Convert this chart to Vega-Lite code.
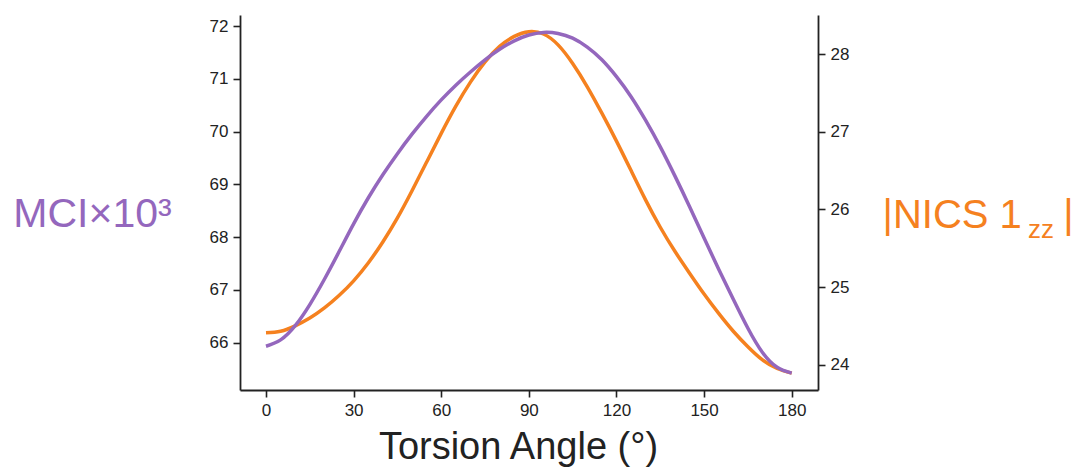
{
"$schema": "https://vega.github.io/schema/vega-lite/v6.json",
"width": 578,
"height": 375,
"autosize": "none",
"padding": {"left": 240, "top": 15, "right": 255, "bottom": 80},
"background": "white",
"config": {
  "view": {"stroke": null},
  "font": "Liberation Sans",
  "axis": {"grid": false, "domainColor": "#222222", "domainWidth": 1.8, "tickColor": "#222222", "tickWidth": 1.6, "tickSize": 7, "labelFont": "Liberation Sans", "labelFontSize": 17, "labelColor": "#222222", "labelPadding": 5, "titleFont": "Liberation Sans", "titleFontWeight": "normal", "titleFontSize": 38}
},
"title": {"text": "zz", "orient": "top", "anchor": "start", "frame": "group", "offset": 0, "baseline": "alphabetic", "fontSize": 26, "fontWeight": "normal", "font": "Liberation Sans", "color": "#f5811f", "dx": 788, "dy": 249},
"data": {"values": [
{"angle": 0, "mci": 65.93, "nics": 24.41},
{"angle": 5, "mci": 66.05, "nics": 24.43},
{"angle": 10, "mci": 66.32, "nics": 24.5},
{"angle": 15, "mci": 66.72, "nics": 24.6},
{"angle": 20, "mci": 67.2, "nics": 24.73},
{"angle": 25, "mci": 67.72, "nics": 24.89},
{"angle": 30, "mci": 68.25, "nics": 25.08},
{"angle": 35, "mci": 68.74, "nics": 25.31},
{"angle": 40, "mci": 69.18, "nics": 25.58},
{"angle": 45, "mci": 69.58, "nics": 25.89},
{"angle": 50, "mci": 69.95, "nics": 26.24},
{"angle": 55, "mci": 70.29, "nics": 26.61},
{"angle": 60, "mci": 70.6, "nics": 26.98},
{"angle": 65, "mci": 70.88, "nics": 27.33},
{"angle": 70, "mci": 71.13, "nics": 27.64},
{"angle": 75, "mci": 71.36, "nics": 27.9},
{"angle": 80, "mci": 71.56, "nics": 28.1},
{"angle": 85, "mci": 71.72, "nics": 28.23},
{"angle": 90, "mci": 71.83, "nics": 28.29},
{"angle": 95, "mci": 71.88, "nics": 28.26},
{"angle": 100, "mci": 71.86, "nics": 28.12},
{"angle": 105, "mci": 71.77, "nics": 27.88},
{"angle": 110, "mci": 71.6, "nics": 27.58},
{"angle": 115, "mci": 71.36, "nics": 27.24},
{"angle": 120, "mci": 71.04, "nics": 26.88},
{"angle": 125, "mci": 70.66, "nics": 26.5},
{"angle": 130, "mci": 70.21, "nics": 26.12},
{"angle": 135, "mci": 69.71, "nics": 25.77},
{"angle": 140, "mci": 69.16, "nics": 25.46},
{"angle": 145, "mci": 68.58, "nics": 25.18},
{"angle": 150, "mci": 67.98, "nics": 24.91},
{"angle": 155, "mci": 67.39, "nics": 24.66},
{"angle": 160, "mci": 66.82, "nics": 24.43},
{"angle": 165, "mci": 66.27, "nics": 24.23},
{"angle": 170, "mci": 65.81, "nics": 24.06},
{"angle": 175, "mci": 65.53, "nics": 23.95},
{"angle": 180, "mci": 65.42, "nics": 23.89}
]},
"encoding": {
  "x": {"field": "angle", "type": "quantitative",
    "scale": {"domain": [-8.9, 189], "nice": false, "zero": false},
    "axis": {"values": [0, 30, 60, 90, 120, 150, 180], "title": "Torsion Angle (°)", "titleColor": "#222222", "titleX": 278, "titleY": 68, "titleAlign": "center", "titleBaseline": "alphabetic"}}
},
"layer": [
  {
    "mark": {"type": "line", "color": "#f5811f", "strokeWidth": 3.5, "interpolate": "natural"},
    "encoding": {
      "y": {"field": "nics", "type": "quantitative",
        "scale": {"domain": [23.673, 28.505], "nice": false, "zero": false},
        "axis": {"orient": "right", "values": [24, 25, 26, 27, 28], "title": "|NICS 1\u00a0\u00a0\u00a0\u2009|", "titleFontSize": 40, "titleColor": "#f5811f", "titleAngle": 0, "titleX": 64, "titleY": 212, "titleAlign": "left", "titleBaseline": "alphabetic"}}
    }
  },
  {
    "mark": {"type": "line", "color": "#9467bd", "strokeWidth": 3.5, "interpolate": "natural"},
    "encoding": {
      "y": {"field": "mci", "type": "quantitative",
        "scale": {"domain": [65.1, 72.21], "nice": false, "zero": false},
        "axis": {"orient": "left", "values": [66, 67, 68, 69, 70, 71, 72], "title": "MCI×10³", "titleFontSize": 41, "titleColor": "#9467bd", "titleAngle": 0, "titleX": -148, "titleY": 211, "titleAlign": "center", "titleBaseline": "alphabetic"}}
    }
  }
],
"resolve": {"scale": {"y": "independent"}}
}
